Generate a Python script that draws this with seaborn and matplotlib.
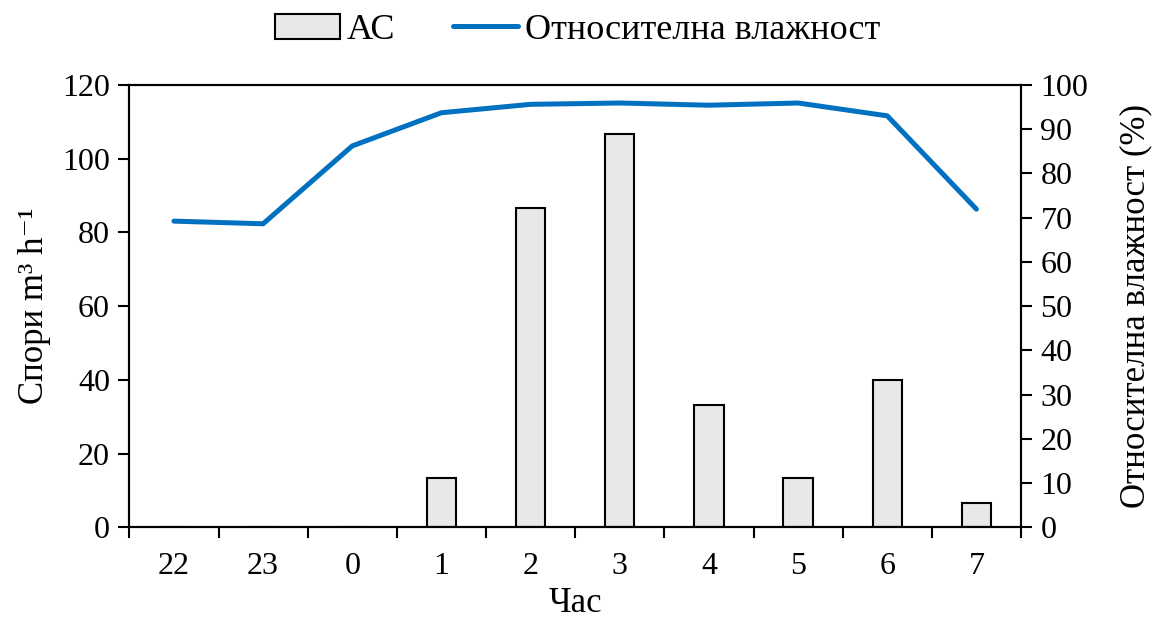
import numpy as np
import pandas as pd
import seaborn as sns
import matplotlib.pyplot as plt
from matplotlib.patches import Patch
from matplotlib.lines import Line2D

# Hours and measured values
hours = ['22', '23', '0', '1', '2', '3', '4', '5', '6', '7']
spores_ac = [0, 0, 0, 13.3, 86.6, 106.7, 33.3, 13.3, 40.0, 6.7]
humidity = [69.2, 68.6, 86.2, 93.7, 95.6, 95.9, 95.4, 95.9, 93.0, 71.9]

df = pd.DataFrame({'Hour': hours, 'AC': spores_ac, 'RH': humidity})
df['pos'] = np.arange(len(hours))

sns.set_style("white")
plt.rcParams['font.family'] = ['Liberation Serif', 'DejaVu Serif']
plt.rcParams['text.color'] = 'black'
plt.rcParams['axes.labelcolor'] = 'black'
plt.rcParams['xtick.color'] = 'black'
plt.rcParams['ytick.color'] = 'black'

fig, ax = plt.subplots(figsize=(11.55, 6.24), dpi=100)
fig.subplots_adjust(left=0.112, right=0.884, top=0.864, bottom=0.155)

sns.barplot(data=df, x='Hour', y='AC', order=hours, color='#e8e8e8',
            edgecolor='black', linewidth=1.5, width=0.33, ax=ax, zorder=2)
for p in ax.patches:
    p.set_facecolor('#e8e8e8')

ax2 = ax.twinx()
sns.lineplot(data=df, x='pos', y='RH', color='#0070C0', linewidth=3.6,
             ax=ax2, zorder=3)

ax.set_xlim(-0.5, len(hours) - 0.5)
ax.set_ylim(0, 120)
ax.set_yticks(range(0, 121, 20))
ax2.set_ylim(0, 100)
ax2.set_yticks(range(0, 101, 10))

# labels centered, tick marks between categories
ax.set_xticks(df['pos'])
ax.set_xticklabels(hours)
ax.set_xticks(np.arange(-0.5, len(hours), 1), minor=True)
ax.tick_params(axis='x', which='major', length=0, labelsize=23, pad=18, bottom=True)
ax.tick_params(axis='x', which='minor', length=8, width=1.5, direction='out',
               color='black', bottom=True)
ax.tick_params(axis='y', length=8, width=1.5, direction='out', labelsize=23, left=True, color='black', pad=6)
ax2.tick_params(axis='y', length=8, width=1.5, direction='out', labelsize=23, right=True, color='black', pad=6)

for a in (ax, ax2):
    for s in a.spines.values():
        s.set_color('black')
        s.set_linewidth(1.5)

ax.set_xlabel('Час', fontsize=25, labelpad=4)
ax.set_ylabel('Спори m³ h⁻¹', fontsize=25, labelpad=8)
ax2.set_ylabel('Относителна влажност (%)', fontsize=25, labelpad=22)
ax2.set_xlabel('')

handles = [Patch(facecolor='#e8e8e8', edgecolor='black', linewidth=1.5),
           Line2D([0], [0], color='#0070C0', linewidth=3.6)]
fig.legend(handles, ['АС', 'Относителна влажност'], loc='upper center',
           bbox_to_anchor=(0.5, 1.03), ncol=2, frameon=False, fontsize=26,
           handlelength=1.8, handletextpad=0.2, columnspacing=1.6)

plt.savefig('out.png', dpi=100)
